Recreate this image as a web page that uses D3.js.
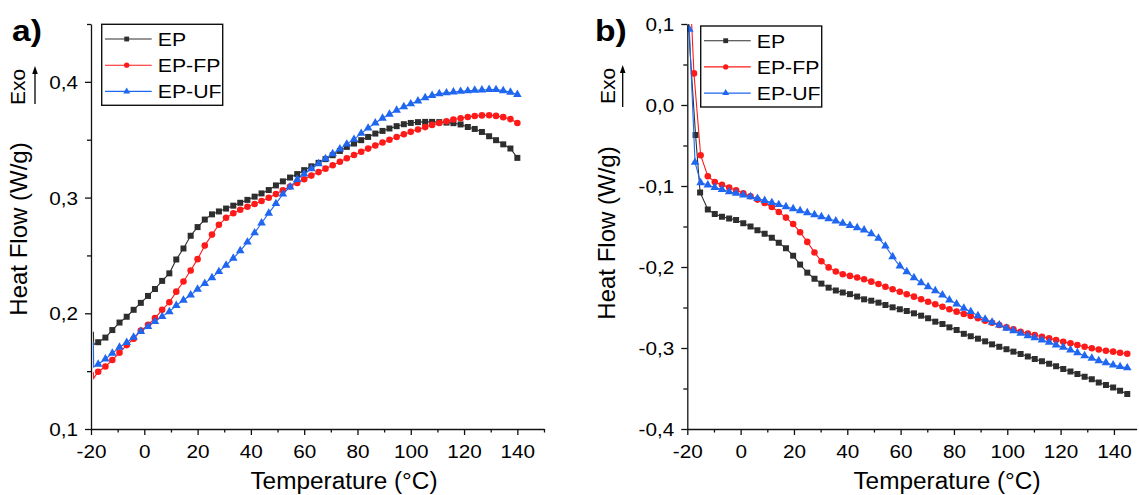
<!DOCTYPE html>
<html>
<head>
<meta charset="utf-8">
<script src="https://cdn.jsdelivr.net/npm/d3@7"></script>
<style>
  body { margin: 0; background: #fff; }
  svg { display: block; }
</style>
</head>
<body>
<svg id="chart"></svg>
<script>
// ---- data ----
var seriesNames = ["EP", "EP-FP", "EP-UF"];

// panel a) marker temperatures (°C)
var tempA = [-17.3, -14.6, -12.0, -9.3, -6.6, -4.0, -1.3, 1.4, 4.0, 6.7,
  9.4, 12.0, 14.7, 17.4, 20.0, 22.7, 25.4, 28.0, 30.7, 33.4,
  36.0, 38.7, 41.4, 44.0, 46.7, 49.4, 52.0, 54.7, 57.4, 60.0,
  62.7, 65.4, 68.0, 70.7, 73.4, 76.0, 78.7, 81.4, 84.0, 86.7,
  89.4, 92.0, 94.7, 97.4, 100.0, 102.7, 105.4, 108.0, 110.7, 113.4,
  116.0, 118.7, 121.4, 124.0, 126.7, 129.4, 132.0, 134.7, 137.4, 140.0];
var epA = [0.175, 0.179, 0.1855, 0.192, 0.197, 0.203, 0.209, 0.215, 0.221, 0.228,
  0.2345, 0.2465, 0.256, 0.267, 0.2745, 0.281, 0.2855, 0.288, 0.2905, 0.293,
  0.2955, 0.298, 0.3008, 0.3036, 0.3065, 0.3105, 0.314, 0.3173, 0.3203, 0.3237,
  0.327, 0.33, 0.3332, 0.3366, 0.3403, 0.3438, 0.3467, 0.3496, 0.3524, 0.3553,
  0.3576, 0.3597, 0.3617, 0.3634, 0.3645, 0.3652, 0.3654, 0.3654, 0.3652, 0.3648,
  0.3643, 0.3632, 0.361, 0.3593, 0.3567, 0.353, 0.3496, 0.346, 0.3424, 0.3343];
var fpA = [0.1495, 0.154, 0.1596, 0.166, 0.1725, 0.178, 0.185, 0.19, 0.1958, 0.203,
  0.2095, 0.2187, 0.2275, 0.237, 0.2468, 0.2585, 0.268, 0.2765, 0.2825, 0.2865,
  0.2895, 0.292, 0.2945, 0.297, 0.2998, 0.303, 0.3064, 0.3095, 0.3127, 0.3158,
  0.319, 0.322, 0.325, 0.328, 0.331, 0.334, 0.3368, 0.3396, 0.3423, 0.345,
  0.3476, 0.35, 0.3524, 0.3547, 0.3568, 0.3589, 0.3609, 0.3628, 0.3645, 0.366,
  0.3674, 0.3686, 0.3697, 0.3705, 0.371, 0.3711, 0.3706, 0.3695, 0.3678, 0.3645];
var ufA = [0.156, 0.1605, 0.1654, 0.1706, 0.1748, 0.1793, 0.1842, 0.1885, 0.1928, 0.1971,
  0.2014, 0.2068, 0.2113, 0.2158, 0.2207, 0.2258, 0.2308, 0.236, 0.2415, 0.2475,
  0.254, 0.2615, 0.2695, 0.278, 0.2865, 0.2948, 0.303, 0.3092, 0.3156, 0.3204,
  0.3248, 0.3292, 0.3335, 0.3378, 0.342, 0.3462, 0.3503, 0.3555, 0.36, 0.3645,
  0.3685, 0.372, 0.3755, 0.3785, 0.381, 0.3835, 0.3863, 0.3883, 0.3898, 0.3905,
  0.3913, 0.3918, 0.3922, 0.3927, 0.393, 0.3934, 0.3933, 0.3924, 0.391, 0.389];
// start of each run (line only, no marker)
var epALead = [[-19.1, 0.184], [-19.0, 0.173]];
var fpALead = [[-19.1, 0.149], [-19.0, 0.1438]];
var ufALead = [[-19.1, 0.1748], [-19.0, 0.1535]];

// panel b) marker temperatures (°C)
var tempB = [-12.3, -9.7, -7.0, -4.3, -1.7, 1.0, 3.7, 6.3, 9.0, 11.7,
  14.3, 17.0, 19.7, 22.3, 25.0, 27.7, 30.3, 33.0, 35.7, 38.3,
  41.0, 43.7, 46.3, 49.0, 51.7, 54.3, 57.0, 59.7, 62.3, 65.0,
  67.7, 70.3, 73.0, 75.7, 78.3, 81.0, 83.7, 86.3, 89.0, 91.7,
  94.3, 97.0, 99.7, 102.3, 105.0, 107.7, 110.3, 113.0, 115.7, 118.3,
  121.0, 123.7, 126.3, 129.0, 131.7, 134.3, 137.0, 139.7, 142.3, 145.0];
var epB = [-0.129, -0.1345, -0.138, -0.140, -0.142, -0.146, -0.150, -0.1545, -0.159, -0.164,
  -0.170, -0.177, -0.186, -0.197, -0.207, -0.2145, -0.2205, -0.2255, -0.229, -0.2315,
  -0.2335, -0.2365, -0.2399, -0.2416, -0.244, -0.2469, -0.2498, -0.2522, -0.2543, -0.2572,
  -0.2601, -0.2633, -0.2675, -0.2704, -0.2745, -0.2778, -0.2825, -0.2855, -0.2885, -0.2918,
  -0.2955, -0.2985, -0.3015, -0.3045, -0.3075, -0.3105, -0.3135, -0.3165, -0.3195, -0.3225,
  -0.3258, -0.329, -0.332, -0.3354, -0.3387, -0.3425, -0.3457, -0.3488, -0.3527, -0.3568];
var fpB = [-0.088, -0.095, -0.0985, -0.102, -0.1053, -0.109, -0.1126, -0.1168, -0.121, -0.126,
  -0.132, -0.139, -0.147, -0.157, -0.169, -0.182, -0.193, -0.2005, -0.2055, -0.209,
  -0.211, -0.213, -0.2152, -0.2181, -0.221, -0.2243, -0.2275, -0.2305, -0.2337, -0.2366,
  -0.2399, -0.2428, -0.246, -0.249, -0.2522, -0.2551, -0.258, -0.2605, -0.2633, -0.2663,
  -0.2688, -0.2716, -0.2745, -0.277, -0.2799, -0.282, -0.284, -0.2861, -0.2881, -0.2901,
  -0.2922, -0.2942, -0.2963, -0.2984, -0.3004, -0.3018, -0.3033, -0.3045, -0.3058, -0.3072];
var ufB = [-0.0988, -0.1018, -0.1042, -0.107, -0.109, -0.111, -0.1133, -0.1155, -0.118, -0.1205,
  -0.123, -0.1255, -0.128, -0.1305, -0.133, -0.1355, -0.138, -0.1405, -0.1432, -0.146,
  -0.1488, -0.1515, -0.1543, -0.159, -0.1646, -0.174, -0.1873, -0.1988, -0.2058, -0.2132,
  -0.2194, -0.2243, -0.2293, -0.2346, -0.2407, -0.2457, -0.251, -0.2551, -0.2601, -0.2646,
  -0.2683, -0.2716, -0.2757, -0.2786, -0.2819, -0.2848, -0.2873, -0.2901, -0.293, -0.2963,
  -0.2991, -0.3025, -0.3058, -0.3095, -0.3127, -0.3157, -0.3181, -0.321, -0.323, -0.3245];
// first markers of the cooling transient, each series has its own
var epBHeadT = [-16.9, -15.2], epBHeadV = [-0.037, -0.108];
var fpBHeadT = [-17.5, -15.0], fpBHeadV = [0.039, -0.062];
var ufBHeadT = [-19.25, -17.1, -15.0], ufBHeadV = [0.0934, -0.0708, -0.0959];
var epBLead = [[-19.6, 0.11], [-19.0, 0.068]];
var fpBLead = [[-18.5, 0.11]];
var ufBLead = [];

var xTicks = [-20, 0, 20, 40, 60, 80, 100, 120, 140];
var xMinorA = [-10, 10, 30, 50, 70, 90, 110, 130, 150];
var xMinorB = [-10, 10, 30, 50, 70, 90, 110, 130];
var yTicksA = [0.1, 0.2, 0.3, 0.4];
var yMinorA = [0.15, 0.25, 0.35, 0.45];
var yTicksB = [0.1, 0.0, -0.1, -0.2, -0.3, -0.4];
var yMinorB = [0.05, -0.05, -0.15, -0.25, -0.35];

// ---- drawing ----
var width = 1139, height = 495;
var font = "Arial, 'Liberation Sans', sans-serif";
var colors = ["#2e2e2e", "#ff1a1a", "#1f66f0"];
var symbols = [d3.symbolSquare, d3.symbolCircle, d3.symbolTriangle];
var symSize = [36, 34, 32];

var svg = d3.select("#chart").attr("width", width).attr("height", height);

function zip(t, v) {
  return t.map(function (d, i) { return [d, v[i]]; });
}

function commaFmt(d) {
  return d.toFixed(1).replace(".", ",");
}

function drawPanel(p, idx) {
  var x = d3.scaleLinear().domain(p.xDomain).range([p.left, p.right]);
  var y = d3.scaleLinear().domain(p.yDomain).range([p.bottom, p.top]);
  var g = svg.append("g");

  g.append("clipPath").attr("id", "clip" + idx)
    .append("rect")
    .attr("x", p.left).attr("y", p.top)
    .attr("width", p.right - p.left).attr("height", p.bottom - p.top);

  var line = d3.line().x(function (d) { return x(d[0]); }).y(function (d) { return y(d[1]); });
  var plot = g.append("g").attr("clip-path", "url(#clip" + idx + ")");

  p.series.forEach(function (s, i) {
    plot.append("path")
      .attr("d", line(s.lead.concat(s.marked)))
      .attr("fill", "none")
      .attr("stroke", colors[i])
      .attr("stroke-width", 1.1);
    plot.selectAll(".m" + i)
      .data(s.marked)
      .enter().append("path")
      .attr("class", "m" + i)
      .attr("d", d3.symbol().type(symbols[i]).size(symSize[i]))
      .attr("transform", function (d) { return "translate(" + x(d[0]) + "," + y(d[1]) + ")"; })
      .attr("fill", colors[i]);
  });

  // axes
  var xAxis = g.append("g").attr("transform", "translate(0," + p.bottom + ")")
    .call(d3.axisBottom(x).tickValues(xTicks).tickSize(6).tickSizeOuter(0)
      .tickFormat(function (d) { return String(d); }));
  g.append("g").attr("transform", "translate(0," + p.bottom + ")")
    .call(d3.axisBottom(x).tickValues(p.xMinor).tickSize(3.5).tickFormat(""))
    .select(".domain").remove();
  var yAxis = g.append("g").attr("transform", "translate(" + p.left + ",0)")
    .call(d3.axisLeft(y).tickValues(p.yTicks).tickSize(6).tickSizeOuter(0).tickFormat(commaFmt));
  g.append("g").attr("transform", "translate(" + p.left + ",0)")
    .call(d3.axisLeft(y).tickValues(p.yMinor).tickSize(4).tickFormat(""))
    .select(".domain").remove();

  g.selectAll(".domain, .tick line").attr("stroke", "#111").attr("stroke-width", 1.3);
  xAxis.selectAll("text")
    .attr("font-family", font).attr("font-size", 18.5).attr("fill", "#000")
    .attr("y", 0).attr("dy", 0)
    .attr("transform", "translate(0,29) scale(1.12,1)");
  yAxis.selectAll("text")
    .attr("font-family", font).attr("font-size", 18.5).attr("fill", "#000")
    .attr("x", 0).attr("dy", "0.36em")
    .attr("transform", "translate(-13,0) scale(1.12,1)");

  // titles
  g.append("text")
    .attr("transform", "translate(" + p.xTitleX + ",489) scale(1.06,1)")
    .attr("text-anchor", "middle")
    .attr("font-family", font).attr("font-size", 23)
    .text("Temperature (°C)");
  g.append("text")
    .attr("transform", "translate(" + p.yTitleX + "," + p.yTitleY + ") rotate(-90)")
    .attr("text-anchor", "middle")
    .attr("font-family", font).attr("font-size", 24)
    .text("Heat Flow (W/g)");
  g.append("text")
    .attr("transform", "translate(" + p.exoX + "," + p.exoY + ") rotate(-90)")
    .attr("text-anchor", "middle")
    .attr("font-family", font).attr("font-size", 21)
    .text("Exo");
  g.append("line")
    .attr("x1", p.arrowX).attr("x2", p.arrowX)
    .attr("y1", p.arrowY1).attr("y2", p.arrowY0 + 6)
    .attr("stroke", "#000").attr("stroke-width", 1.3);
  g.append("path")
    .attr("d", "M" + p.arrowX + "," + p.arrowY0 + " l-2.8,8 l5.6,0 z")
    .attr("fill", "#000");
  g.append("text")
    .attr("transform", "translate(" + p.labelX + ",41) scale(1.12,1)")
    .attr("font-family", font).attr("font-size", 30).attr("font-weight", "bold")
    .text(p.label);

  // legend
  var lg = g.append("g").attr("transform", "translate(" + p.legX + "," + p.legY + ")");
  lg.append("rect").attr("width", 121).attr("height", 81)
    .attr("fill", "#fff").attr("stroke", "#111").attr("stroke-width", 1.4);
  seriesNames.forEach(function (name, i) {
    var ry = 14.7 + i * 26.2;
    lg.append("line").attr("x1", 3.3).attr("x2", 50).attr("y1", ry).attr("y2", ry)
      .attr("stroke", colors[i]).attr("stroke-width", 1.1);
    lg.append("path")
      .attr("d", d3.symbol().type(symbols[i]).size(symSize[i] * 0.65))
      .attr("transform", "translate(25," + ry + ")")
      .attr("fill", colors[i]);
    lg.append("text")
      .attr("transform", "translate(56," + (ry + 6.8) + ") scale(1.12,1)")
      .attr("font-family", font).attr("font-size", 19)
      .text(name);
  });
}

drawPanel({
  xDomain: [-20, 150], left: 91, right: 544,
  yDomain: [0.1, 0.45], top: 24, bottom: 429,
  xMinor: xMinorA, yTicks: yTicksA, yMinor: yMinorA,
  xTitleX: 344, yTitleX: 27, yTitleY: 229,
  exoX: 25, exoY: 87, arrowX: 35, arrowY0: 66, arrowY1: 104,
  label: "a)", labelX: 12, legX: 101.7, legY: 24.3,
  series: [
    { lead: epALead, marked: zip(tempA, epA) },
    { lead: fpALead, marked: zip(tempA, fpA) },
    { lead: ufALead, marked: zip(tempA, ufA) }
  ]
}, 0);

drawPanel({
  xDomain: [-20, 148.5], left: 687.3, right: 1136.6,
  yDomain: [-0.4, 0.1], top: 24, bottom: 429,
  xMinor: xMinorB, yTicks: yTicksB, yMinor: yMinorB,
  xTitleX: 947, yTitleX: 615, yTitleY: 233,
  exoX: 615, exoY: 86, arrowX: 622.7, arrowY0: 65, arrowY1: 107,
  label: "b)", labelX: 595, legX: 700.7, legY: 26,
  series: [
    { lead: epBLead, marked: zip(epBHeadT, epBHeadV).concat(zip(tempB, epB)) },
    { lead: fpBLead, marked: zip(fpBHeadT, fpBHeadV).concat(zip(tempB, fpB)) },
    { lead: ufBLead, marked: zip(ufBHeadT, ufBHeadV).concat(zip(tempB, ufB)) }
  ]
}, 1);
</script>
</body>
</html>
